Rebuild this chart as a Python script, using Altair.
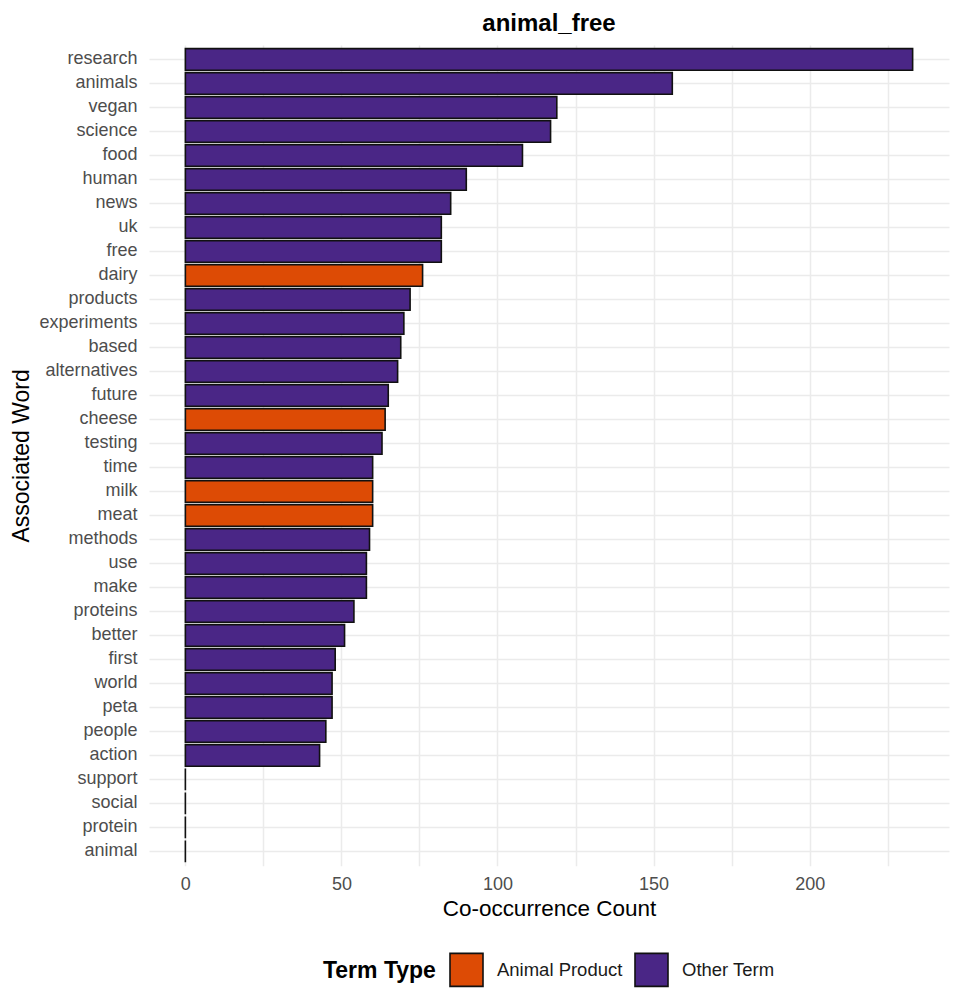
import altair as alt
import pandas as pd

words = ["research", "animals", "vegan", "science", "food", "human", "news", "uk",
         "free", "dairy", "products", "experiments", "based", "alternatives", "future",
         "cheese", "testing", "time", "milk", "meat", "methods", "use", "make",
         "proteins", "better", "first", "world", "peta", "people", "action",
         "support", "social", "protein", "animal"]
counts = [233, 156, 119, 117, 108, 90, 85, 82, 82, 76, 72, 70, 69, 68, 65, 64, 63,
          60, 60, 60, 59, 58, 58, 54, 51, 48, 47, 47, 45, 43, 0, 0, 0, 0]
animal_products = ["dairy", "cheese", "milk", "meat"]
type_names = ["Animal Product", "Other Term"]
type_colors = ["#DD4B05", "#4A2686"]
x_grid = [0, 25, 50, 75, 100, 125, 150, 175, 200, 225]

types = [type_names[0] if w in animal_products else type_names[1] for w in words]
df = pd.DataFrame({"word": words, "count": counts, "type": types})

FONT = "Liberation Sans"

chart = alt.Chart(df).mark_bar(stroke="#111111", strokeWidth=1.6).encode(
    x=alt.X(
        "count:Q",
        scale=alt.Scale(domain=[-11.65, 244.65], nice=False, zero=False),
        axis=alt.Axis(
            values=x_grid,
            labelExpr="datum.value % 50 == 0 ? datum.label : ''",
            title="Co-occurrence Count",
            grid=True, gridColor="#ebebeb", gridWidth=1.5,
            ticks=False, domain=False,
            labelPadding=10, labelFont=FONT, labelFontSize=18, labelColor="#4d4d4d",
            titleFont=FONT, titleFontSize=22.5, titleFontWeight="normal", titleColor="#000000",
            titleX=400, titleY=50, titleBaseline="alphabetic", titleAnchor="middle",
        ),
    ),
    y=alt.Y(
        "word:N",
        sort=words,
        scale=alt.Scale(paddingInner=0.1, paddingOuter=0.15),
        axis=alt.Axis(
            title="Associated Word",
            grid=True, gridColor="#ebebeb", gridWidth=1.5, bandPosition=0.5,
            ticks=False, domain=False,
            labelPadding=12, labelFont=FONT, labelFontSize=18, labelColor="#4d4d4d",
            titleFont=FONT, titleFontSize=23, titleFontWeight="normal", titleColor="#000000",
            titleX=-116, titleY=410.4, titleBaseline="bottom", titleAngle=270,
        ),
    ),
    color=alt.Color(
        "type:N",
        scale=alt.Scale(domain=type_names, range=type_colors),
        legend=alt.Legend(
            title="Term Type", orient="none", legendX=174, legendY=907,
            direction="horizontal", titleOrient="left", padding=0,
            titleFont=FONT, titleFontSize=23, titleFontWeight="bold", titleColor="#000000",
            titlePadding=13,
            labelFont=FONT, labelFontSize=18.5, labelColor="#1a1a1a", labelOffset=13,
            symbolType="square", symbolSize=1089, symbolStrokeColor="#111111",
            symbolStrokeWidth=1.6, symbolOpacity=1, columnPadding=8,
        ),
    ),
).properties(
    width=800,
    height=820.8,
    title=alt.Title("animal_free", font=FONT, fontSize=24, fontWeight="bold",
                    color="#000000", anchor="middle", offset=9),
    padding={"left": 141, "top": 37, "right": 17, "bottom": 124},
    autosize=alt.AutoSizeParams(type="none"),
).configure_view(stroke=None)

chart.save("out.html", embed_options={"renderer": "svg", "actions": False})
